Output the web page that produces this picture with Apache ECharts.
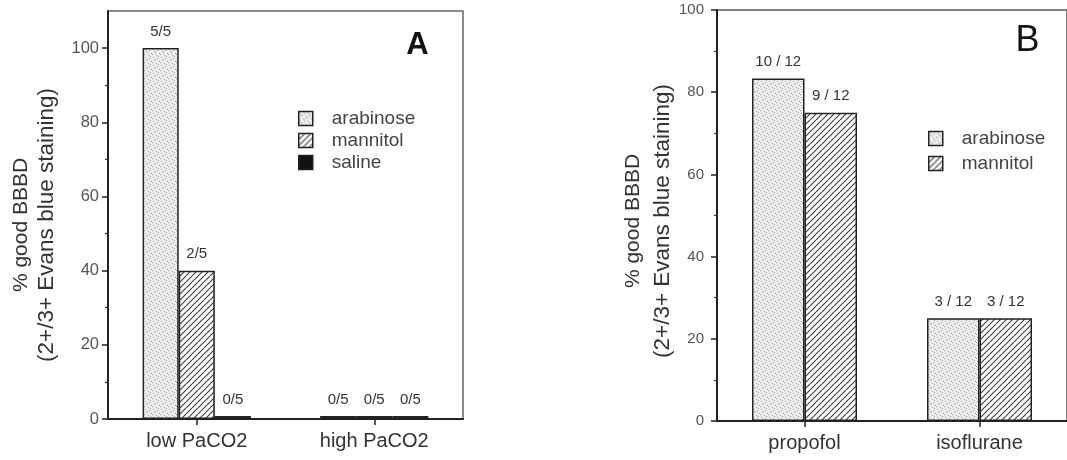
<!DOCTYPE html>
<html>
<head>
<meta charset="utf-8">
<script src="https://cdn.jsdelivr.net/npm/echarts@6/dist/echarts.min.js"></script>
<style>
  html, body { margin: 0; padding: 0; background: #fff; }
  #chart { width: 1067px; height: 460px; }
</style>
</head>
<body>
<div id="chart"></div>
<script>
// Panel A: hyperosmotic agent vs. PaCO2 (animals with good BBBD / animals studied)
const categoriesA = ['low PaCO2', 'high PaCO2'];
const arabinoseA = [5, 0];
const mannitolA = [2, 0];
const salineA = [0, 0];
const totalA = 5;

// Panel B: hyperosmotic agent vs. anesthetic
const categoriesB = ['propofol', 'isoflurane'];
const arabinoseB = [10, 3];
const mannitolB = [9, 3];
const totalB = 12;

// y axis ticks (percent)
const yMajorTicks = [0, 20, 40, 60, 80, 100];
const yMinorTicks = [10, 30, 50, 70, 90];

const FONT = '"Liberation Sans", Arial, Helvetica, sans-serif';

// stippled grey fill
function stipplePattern() {
  const c = document.createElement('canvas');
  c.width = 8; c.height = 8;
  const g = c.getContext('2d');
  g.fillStyle = '#eeeeee';
  g.fillRect(0, 0, 8, 8);
  g.fillStyle = '#9c9c9c';
  [[1, 1], [5, 2], [3, 4], [7, 5], [0, 6], [4, 7], [6, 0], [2, 3]].forEach(([x, y]) => g.fillRect(x, y, 1, 1));
  return c;
}

// diagonal "/" hatch fill
function hatchPattern() {
  const s = 6;
  const c = document.createElement('canvas');
  c.width = s; c.height = s;
  const g = c.getContext('2d');
  g.fillStyle = '#fff';
  g.fillRect(0, 0, s, s);
  g.strokeStyle = '#3a3a3a';
  g.lineWidth = 1.1;
  [-s, 0, s].forEach(k => {
    g.beginPath();
    g.moveTo(k, s);
    g.lineTo(k + s, 0);
    g.stroke();
  });
  return c;
}

const fills = {
  arabinose: { image: stipplePattern(), repeat: 'repeat' },
  mannitol: { image: hatchPattern(), repeat: 'repeat' },
  saline: '#111'
};

const pct = (n, total) => n / total * 100;

function barSeries(name, counts, total, axisIdx, sep, gap) {
  return {
    type: 'bar',
    name: name,
    xAxisIndex: axisIdx,
    yAxisIndex: axisIdx * 2,
    data: counts.map(n => pct(n, total)),
    barGap: '0%',
    barCategoryGap: gap,
    barMinHeight: 3,
    silent: true,
    itemStyle: { color: fills[name], borderColor: '#222', borderWidth: 1.5 },
    label: {
      show: true,
      position: 'top',
      distance: 9,
      fontFamily: FONT,
      fontSize: 15,
      color: '#333',
      formatter: p => counts[p.dataIndex] + sep + total
    }
  };
}

function xAxis(gridIndex, data) {
  return {
    type: 'category',
    gridIndex: gridIndex,
    data: data,
    axisLine: { lineStyle: { color: '#222', width: 2 } },
    axisTick: { show: true, alignWithLabel: true, length: 6, lineStyle: { color: '#222', width: 1.5 } },
    axisLabel: { fontFamily: FONT, fontSize: 20, color: '#333', margin: 12 }
  };
}

function yAxes(gridIndex, max, labelSize, labelMargin) {
  return [
    {
      type: 'value',
      gridIndex: gridIndex,
      position: 'left',
      min: 0,
      max: max,
      interval: 20,
      splitLine: { show: false },
      axisLine: { show: true, lineStyle: { color: '#222', width: 2 } },
      axisTick: { show: true, length: 6, customValues: yMajorTicks, lineStyle: { color: '#222', width: 1.5 } },
      axisLabel: { fontFamily: FONT, fontSize: labelSize, color: '#555', margin: labelMargin, customValues: yMajorTicks }
    },
    {
      type: 'value',
      gridIndex: gridIndex,
      position: 'left',
      offset: 0,
      min: 0,
      max: max,
      interval: 10,
      splitLine: { show: false },
      axisLine: { show: false },
      axisTick: { show: true, length: 3, customValues: yMinorTicks, lineStyle: { color: '#333', width: 1.2 } },
      axisLabel: { show: false }
    }
  ];
}

const legendBase = {
  orient: 'vertical',
  icon: 'rect',
  padding: 0,
  itemWidth: 14,
  itemHeight: 14,
  selectedMode: false,
  itemStyle: { borderColor: '#222', borderWidth: 1.5 },
  textStyle: { fontFamily: FONT, fontSize: 19, color: '#444', padding: [0, 0, 0, 14] }
};

const yTitle = {
  text: '{a|% good BBBD}\n{b|(2+/3+ Evans blue staining)}',
  fill: '#333',
  align: 'center',
  verticalAlign: 'middle',
  rich: {
    a: { fontFamily: FONT, fontSize: 21, fill: '#333' },
    b: { fontFamily: FONT, fontSize: 22.5, fill: '#333' }
  }
};

const chart = echarts.init(document.getElementById('chart'), null, { renderer: 'canvas' });

chart.setOption({
  animation: false,
  backgroundColor: '#fff',
  grid: [
    { left: 108, top: 11, width: 355, height: 408, show: true, borderColor: '#666', borderWidth: 1.5 },
    { left: 717, top: 10, width: 358, height: 411, show: true, borderColor: '#555', borderWidth: 1.5 }
  ],
  xAxis: [xAxis(0, categoriesA), xAxis(1, categoriesB)],
  yAxis: [...yAxes(0, 110, 16.5, 9), ...yAxes(1, 100, 15, 13)],
  legend: [
    Object.assign({}, legendBase, { left: 298, top: 109, itemGap: 3, data: ['arabinose', 'mannitol', 'saline'] }),
    Object.assign({}, legendBase, { left: 928, top: 129, itemGap: 6, data: ['arabinose', 'mannitol'] })
  ],
  series: [
    barSeries('arabinose', arabinoseA, totalA, 0, '/', '39%'),
    barSeries('mannitol', mannitolA, totalA, 0, '/', '39%'),
    barSeries('saline', salineA, totalA, 0, '/', '39%'),
    barSeries('arabinose', arabinoseB, totalB, 1, ' / ', '40%'),
    barSeries('mannitol', mannitolB, totalB, 1, ' / ', '40%')
  ],
  graphic: [
    {
      type: 'text', x: 34, y: 225, rotation: Math.PI / 2,
      style: Object.assign({}, yTitle, { rich: { a: Object.assign({ lineHeight: 25 }, yTitle.rich.a), b: Object.assign({ lineHeight: 25 }, yTitle.rich.b) } })
    },
    {
      type: 'text', x: 648, y: 221, rotation: Math.PI / 2,
      style: Object.assign({}, yTitle, { rich: { a: Object.assign({ lineHeight: 29 }, yTitle.rich.a), b: Object.assign({ lineHeight: 29 }, yTitle.rich.b) } })
    },
    {
      type: 'text', x: 417.5, y: 45,
      style: { text: 'A', font: 'bold 31px ' + FONT, fill: '#111', align: 'center', verticalAlign: 'middle' }
    },
    {
      type: 'text', x: 1027.5, y: 41,
      style: { text: 'B', font: '36px ' + FONT, fill: '#111', align: 'center', verticalAlign: 'middle' }
    }
  ]
});
</script>
</body>
</html>
